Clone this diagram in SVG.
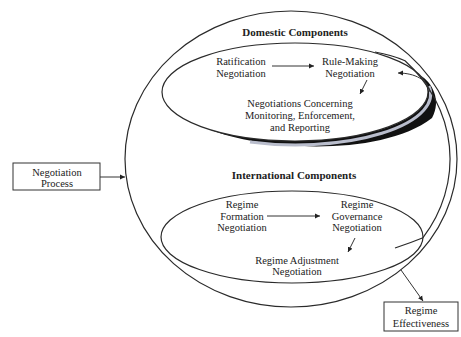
<svg xmlns="http://www.w3.org/2000/svg" width="461" height="337" viewBox="0 0 461 337">
<style>
.ln{fill:none;stroke:#2a2a2a;stroke-width:1.2}
.box{fill:#fff;stroke:#333;stroke-width:1}
text{font-family:"Liberation Serif","Times New Roman",serif;fill:#222;text-anchor:middle;font-size:10.5px}
.t{font-weight:bold;font-size:11px}
.c{fill:none;stroke:#333;stroke-width:1}
</style>
<defs>
<marker id="ah" markerWidth="6" markerHeight="6" refX="5" refY="3" orient="auto" markerUnits="userSpaceOnUse">
<path d="M0,0.5 L5,3 L0,5.5 Z" fill="#222"/>
</marker>
</defs>
<rect width="461" height="337" fill="#fff"/>
<g id="sphere">
<ellipse class="ln" cx="291" cy="159" rx="166" ry="148"/>
</g>
<g id="domestic">
<path d="M420,75.2 A133 49 0 0 1 209.5,129.5 C260,150 380,158 432,118 C442,100 432,82 420,75.2 Z" fill="#111"/>
<path d="M429,86 A135 51 0 0 1 250,142" fill="none" stroke="#b9bdcc" stroke-width="3"/>
<ellipse cx="295" cy="92" rx="133" ry="49" fill="#fff" stroke="#2a2a2a" stroke-width="1.2"/>
<text class="t" x="295" y="35.5">Domestic Components</text>
</g>
<g id="ratification"><text x="241" y="65">Ratification</text><text x="241" y="77">Negotiation</text></g>
<g id="rulemaking"><text x="350" y="65">Rule-Making</text><text x="350" y="77">Negotiation</text></g>
<g id="monitoring"><text x="300" y="107">Negotiations Concerning</text><text x="300" y="118.5">Monitoring, Enforcement,</text><text x="300" y="130.5">and Reporting</text></g>
<g id="international">
<ellipse class="ln" cx="292" cy="237" rx="131" ry="46"/>
<text class="t" x="294" y="179">International Components</text>
</g>
<g id="formation"><text x="242" y="208">Regime</text><text x="242" y="219.5">Formation</text><text x="242" y="231">Negotiation</text></g>
<g id="governance"><text x="357" y="208">Regime</text><text x="357" y="219.5">Governance</text><text x="357" y="231">Negotiation</text></g>
<g id="adjustment"><text x="297" y="263.5">Regime Adjustment</text><text x="297" y="275">Negotiation</text></g>
<g id="process"><rect class="box" x="13" y="163" width="87" height="27"/><text x="57" y="175.5">Negotiation</text><text x="57" y="186.5">Process</text></g>
<g id="effectiveness"><rect class="box" x="384" y="302" width="74" height="29"/><text x="421" y="314">Regime</text><text x="421" y="327">Effectiveness</text></g>
<g id="connectors">
<path class="ln" d="M375,52 Q392,55 405,60.7 A159 141 0 0 1 423,237.7 Q410,243 395,248"/>
<path class="c" d="M430,92 C428,80 415,73 398,73" marker-end="url(#ah)"/>
<path class="c" d="M272,66 L314,66" marker-end="url(#ah)"/>
<path class="c" d="M367,80 L360,94" marker-end="url(#ah)"/>
<path class="c" d="M267,216 L320,216" marker-end="url(#ah)"/>
<path class="c" d="M355,238 L348,252" marker-end="url(#ah)"/>
<path class="c" d="M100,177 L125,177" marker-end="url(#ah)"/>
<path class="c" d="M401,270 L423,301" marker-end="url(#ah)"/>
</g>
</svg>
